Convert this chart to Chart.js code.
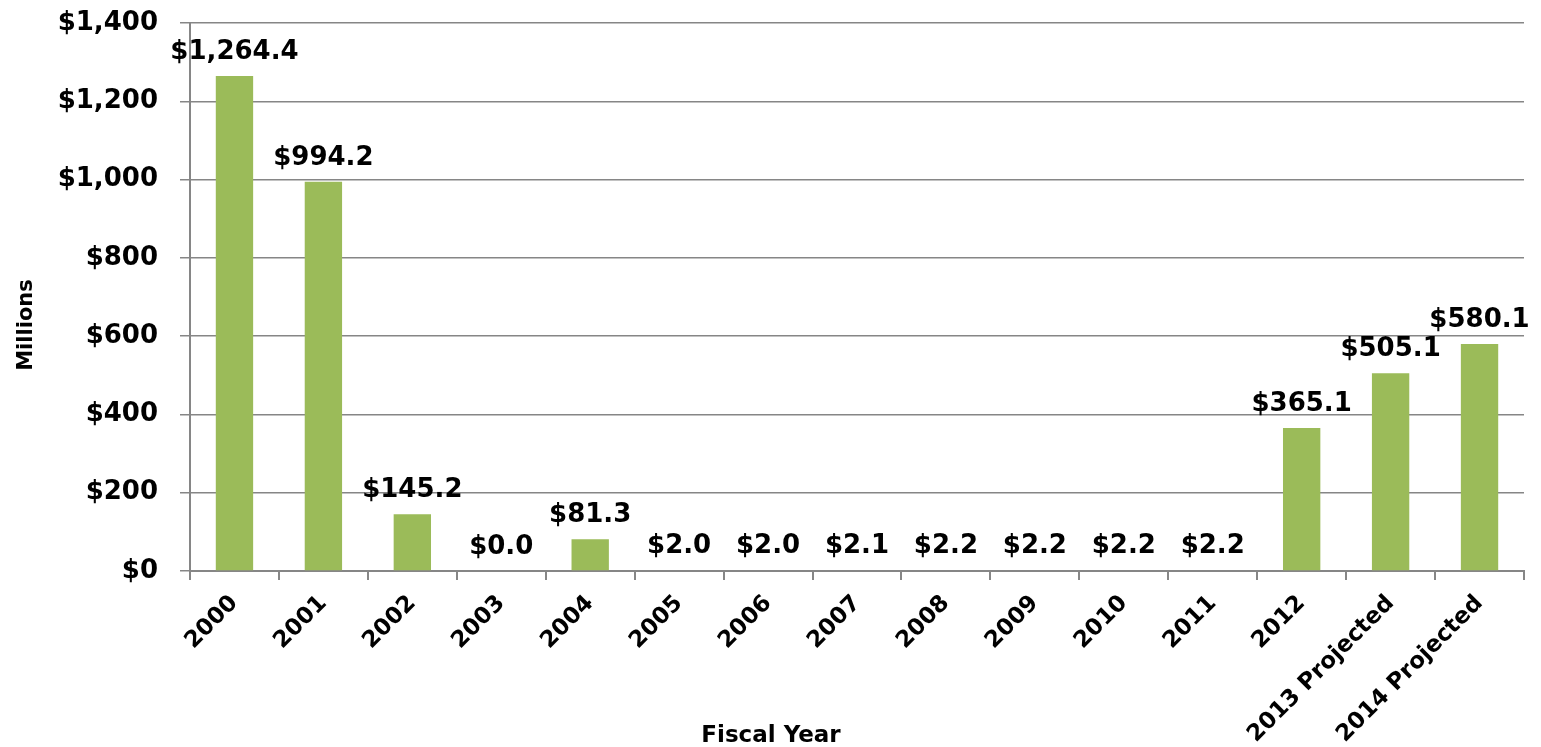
<!DOCTYPE html>
<html>
<head>
<meta charset="utf-8">
<script src="https://cdn.jsdelivr.net/npm/chart.js@4.4.1/dist/chart.umd.min.js"></script>
<style>
  html, body { margin: 0; padding: 0; background: #fff; }
  #wrap { width: 1541px; height: 747px; }
</style>
</head>
<body>
<div id="wrap"><canvas id="fundChart"></canvas></div>
<script>
// chart data
const years = ['2000', '2001', '2002', '2003', '2004', '2005', '2006', '2007',
  '2008', '2009', '2010', '2011', '2012', '2013 Projected', '2014 Projected'];
const amounts = [1264.4, 994.2, 145.2, 0.0, 81.3, 2.0, 2.0, 2.1, 2.2, 2.2, 2.2, 2.2, 365.1, 505.1, 580.1];
const yTicks = [0, 200, 400, 600, 800, 1000, 1200, 1400];

const FONT = "'DejaVu Sans', Verdana, sans-serif";

function money(v, digits) {
  return '$' + v.toLocaleString('en-US', { minimumFractionDigits: digits, maximumFractionDigits: digits });
}

// value labels above bars + axis titles (placed like the original, off-centre)
const extras = {
  id: 'extras',
  afterDatasetsDraw(chart) {
    const ctx = chart.ctx;
    const meta = chart.getDatasetMeta(0);
    ctx.save();
    ctx.font = 'bold 26px ' + FONT;
    ctx.fillStyle = '#000';
    ctx.textAlign = 'center';
    ctx.textBaseline = 'alphabetic';
    meta.data.forEach((bar, i) => {
      ctx.fillText(money(amounts[i], 1), bar.x, bar.y - 17);
    });

    ctx.textBaseline = 'middle';
    ctx.font = 'bold 23px ' + FONT;
    ctx.fillText('Fiscal Year', 771, 736);

    ctx.translate(27, 325);
    ctx.rotate(-Math.PI / 2);
    ctx.font = 'bold 21px ' + FONT;
    ctx.fillText('Millions', 0, 0);
    ctx.restore();
  }
};

document.addEventListener('DOMContentLoaded', function() {
  const ctx = document.getElementById('fundChart').getContext('2d');
  new Chart(ctx, {
    type: 'bar',
    data: {
      labels: years,
      datasets: [{
        data: amounts,
        backgroundColor: '#9BBB59',
        barPercentage: 0.42,
        categoryPercentage: 1.0
      }]
    },
    options: {
      responsive: true,
      maintainAspectRatio: false,
      animation: false,
      layout: { padding: { top: 23, right: 17, left: 0, bottom: 0 } },
      plugins: {
        legend: { display: false },
        tooltip: { enabled: false }
      },
      scales: {
        x: {
          grid: {
            display: true,
            drawOnChartArea: false,
            color: '#868686',
            lineWidth: 2,
            tickLength: 9,
            offset: true
          },
          border: { color: '#868686', width: 2 },
          ticks: {
            autoSkip: false,
            maxRotation: 45,
            minRotation: 45,
            padding: 10,
            color: '#000',
            font: { family: FONT, size: 23, weight: 'bold' }
          },
          afterFit(scale) { scale.height = 176; }
        },
        y: {
          min: 0,
          max: 1400,
          afterBuildTicks(scale) { scale.ticks = yTicks.map(v => ({ value: v })); },
          grid: {
            color: '#868686',
            lineWidth: 1.5,
            tickLength: 10
          },
          border: { color: '#868686', width: 2 },
          ticks: {
            padding: 22,
            color: '#000',
            font: { family: FONT, size: 26, weight: 'bold' },
            callback: v => money(v, 0)
          },
          afterFit(scale) {
            scale.width = 190;
            scale.paddingTop = 0;
            scale.paddingBottom = 0;
          }
        }
      }
    },
    plugins: [extras]
  });
});
</script>
</body>
</html>
